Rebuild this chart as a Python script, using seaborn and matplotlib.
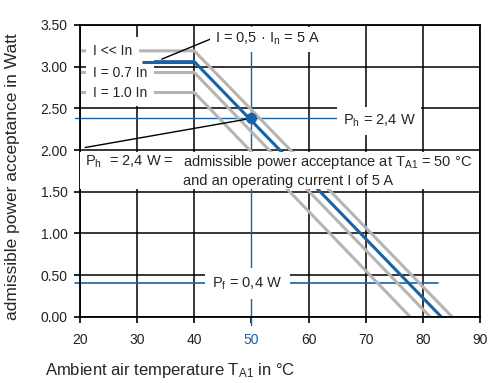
import numpy as np
import seaborn as sns
import matplotlib.pyplot as plt
from matplotlib.patches import Rectangle

# derating curves: (temperature degC, power W)
small_x = [20, 40, 85.1]      # I << In
small_y = [3.19, 3.19, 0.0]
i05_x = [30.8, 40, 83.2]      # I = 0,5 In = 5 A
i05_y = [3.06, 3.06, 0.0]
i07_x = [20, 40, 81.25]       # I = 0.7 In
i07_y = [2.93, 2.93, 0.0]
i10_x = [20, 40, 77.75]       # I = 1.0 In
i10_y = [2.69, 2.69, 0.0]

gray_labels = ['I << In', 'I = 0.7 In', 'I = 1.0 In']
gray_levels = [3.19, 2.93, 2.69]

t_a1 = 50
p_h = 2.38
p_f = 0.40
p_f_end = 82.7
p_h_end = 66

xticks = [20, 30, 40, 50, 60, 70, 80, 90]
yticks = [0.0, 0.5, 1.0, 1.5, 2.0, 2.5, 3.0, 3.5]

BLUE = '#1763a6'
GRAY = '#b5b5b5'

sns.set_style('white')
plt.rcParams['font.family'] = ['Liberation Sans', 'DejaVu Sans']
plt.rcParams['mathtext.default'] = 'regular'

fig = plt.figure(figsize=(4.9, 3.83), dpi=100)
ax = fig.add_axes([80/490, 1-316.7/383, 400/490, 291.7/383])

ax.set_xlim(20, 90)
ax.set_ylim(0, 3.5)
ax.set_xticks(xticks)
ax.set_yticks(yticks)
ax.set_yticklabels(['%.2f' % v for v in yticks])
ax.tick_params(direction='out', length=4, width=1.2, color='black',
               labelsize=10, labelcolor='#222222', left=True, bottom=True)
ax.tick_params(axis='x', pad=8)
ax.tick_params(axis='y', pad=5)
ax.xaxis.get_ticklabels()[3].set_color(BLUE)

ax.grid(True, color='black', lw=1.1, zorder=0)
ax.xaxis.get_gridlines()[3].set_visible(False)
for s in ax.spines.values():
    s.set_color('black')
    s.set_linewidth(1.3)

# curves
for xs, ys in [(small_x, small_y), (i07_x, i07_y), (i10_x, i10_y)]:
    sns.lineplot(x=xs, y=ys, ax=ax, color=GRAY, lw=2.2, sort=False, zorder=2)
sns.lineplot(x=i05_x, y=i05_y, ax=ax, color=BLUE, lw=2.2, sort=False, zorder=2.2)

# blue crosshair and P_f line
ax.plot([t_a1, t_a1], [3.5, -0.1], color=BLUE, lw=1.0, clip_on=False, zorder=1.5)
ax.plot([19.1, p_h_end], [p_h, p_h], color=BLUE, lw=1.0, clip_on=False, zorder=1.5)
ax.plot([19.1, p_f_end], [p_f, p_f], color=BLUE, lw=1.2, clip_on=False, zorder=1.5)
ax.plot([20.9, t_a1], [2.03, p_h], color='black', lw=1.0, zorder=3)
ax.plot([t_a1], [p_h], 'o', color=BLUE, ms=7, zorder=4)

box = dict(boxstyle='square,pad=0.5', fc='white', ec='none')
for lab, lev in zip(gray_labels, gray_levels):
    ax.text(22.3, lev, lab, fontsize=10, va='center', ha='left', bbox=box, zorder=5)

# the blue horizontal part sits between the labels, keep it above their boxes
ax.plot(i05_x[:2], i05_y[:2], color=BLUE, lw=2.2, zorder=6, solid_capstyle='butt')

ax.plot([34.3, 42.8], [3.09, 3.33], color='black', lw=1.0, zorder=3)
ax.text(43.6, 3.33, 'I = 0,5 · I$_n$ = 5 A', fontsize=10.5, va='center', ha='left',
        bbox=dict(boxstyle='square,pad=0.3', fc='white', ec='none'), zorder=5)

ax.text(p_h_end, 2.35, 'P$_h$ = 2,4 W', fontsize=10.5, va='center', ha='left',
        bbox=dict(boxstyle='square,pad=0.4', fc='white', ec='none'), zorder=5)

ax.text(49.3, p_f, 'P$_f$ = 0,4 W', fontsize=10.5, va='center', ha='center',
        bbox=box, zorder=5)

# explanation block
ax.add_patch(Rectangle((20, 1.53), 69.8, 0.45, fc='white', ec='none', zorder=3.5))
ax.text(20.9, 1.86, 'P$_h$  = 2,4 W =', fontsize=10.5, va='center', ha='left', zorder=5)
ax.text(38.0, 1.75, 'admissible power acceptance at T$_{A1}$ = 50 °C\nand an operating current I of 5 A',
        fontsize=10.5, va='center', ha='left', linespacing=1.25, zorder=5)

ax.set_xlabel('Ambient air temperature T$_{A1}$ in °C', fontsize=12, ha='left', va='center')
ax.xaxis.set_label_coords(-35/400, -0.183)
ax.set_ylabel('admissible power acceptance in Watt', fontsize=12.5, ha='center', va='center')
ax.yaxis.set_label_coords(-0.1675, 0.479)

fig.savefig('out.png', dpi=100)
